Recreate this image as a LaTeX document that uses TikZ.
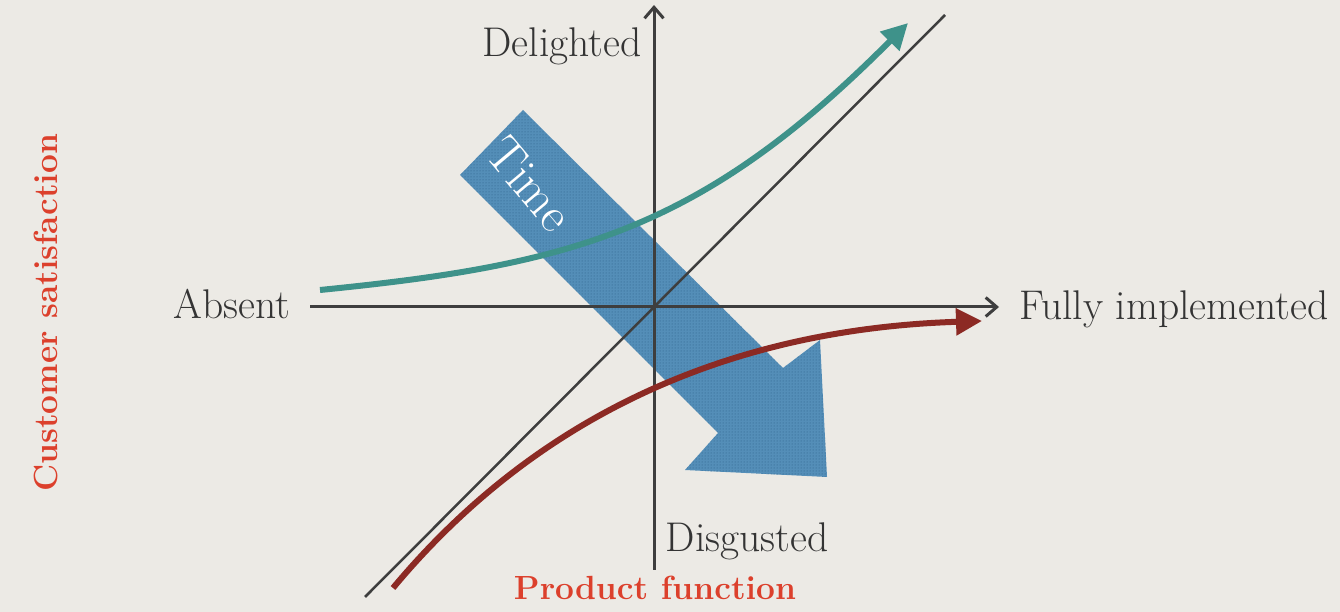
\documentclass[tikz,border=0pt]{standalone}
\usepackage{tikz}
\usetikzlibrary{arrows.meta,patterns}
\definecolor{bggray}{RGB}{236,234,229}
\definecolor{axisgray}{RGB}{62,62,62}
\definecolor{textgray}{RGB}{52,52,52}
\definecolor{delightteal}{RGB}{62,146,138}
\definecolor{disgustred}{RGB}{140,42,36}
\definecolor{timeblue}{RGB}{84,142,184}
\definecolor{timedots}{RGB}{44,94,134}
\definecolor{titlered}{RGB}{220,64,44}

\begin{document}
\begin{tikzpicture}[x=1pt,y=1pt,
    axis/.style={line width=3pt, draw=axisgray, -{Straight Barb[length=11pt,width=19pt]}},
    curve/.style={line width=6pt, -{Triangle[length=26pt,width=26pt]}},
    lbl/.style={text=textgray, font=\fontsize{41.5}{44}\selectfont, inner sep=0pt, anchor=base},
    axistitle/.style={text=titlered, font=\fontsize{33.5}{36}\selectfont\bfseries, inner sep=0pt, anchor=base},
    timetext/.style={rotate=-50, font=\fontsize{50}{52}\selectfont, inner sep=0pt}]
    % Background
    \fill[bggray] (0,0) rectangle (1340,612);
    \useasboundingbox (0,0) rectangle (1340,612);

    % Time arrow
    \fill[timeblue, postaction={pattern=dots, pattern color=timedots}]
        (523,502) -- (460,437) -- (718,179) -- (685,142) -- (827,135) -- (820,272) -- (783,244) -- cycle;
    \node[timetext, text=white] (time) at (530,428) {Time};

    % Draw the axes
    \draw[axis] (310,305) -- (999,305);
    \draw[axis] (654,42) -- (654,607);
    \draw[line width=2.5pt, axisgray] (365,15) -- (945,597);% linear

    % Draw the curves
    \draw[curve, delightteal] (320,322) .. controls (570,347) and (700,380) .. (908,589);
    \draw[curve, disgustred] (393,24) .. controls (538,198) and (732,283) .. (982,291);

    % Labels
    \node[lbl] (delighted) at (562,555) {Delighted};
    \node[lbl] (absent) at (232,293) {Absent};
    \node[lbl] (fully) at (1174,292) {Fully implemented};
    \node[lbl] (disgusted) at (747,60) {Disgusted};
    \node[axistitle] (product) at (655,12) {Product function};
    \node[axistitle, rotate=90] (customer) at (57,299) {Customer satisfaction};
\end{tikzpicture}
\end{document}
